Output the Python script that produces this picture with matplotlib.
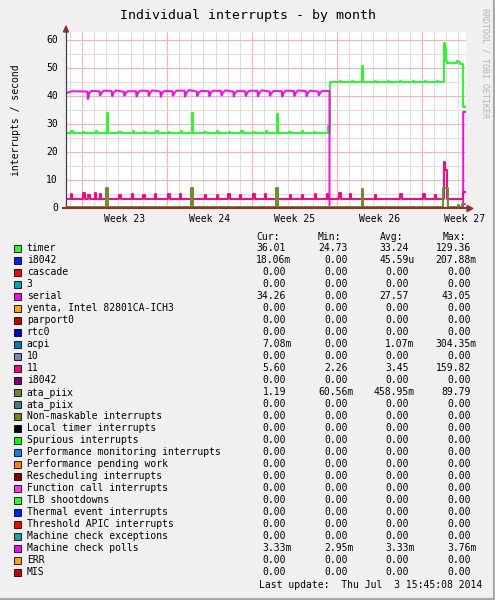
import numpy as np
import matplotlib.pyplot as plt
from matplotlib.patches import Rectangle, Polygon
from matplotlib.lines import Line2D

W, H = 495, 600
PX_DAY = 85 / 7.0      # graph pixels per day
PX_UNIT = 2.8          # graph pixels per interrupt/s
plt.rcParams['font.family'] = ['DejaVu Sans Mono']

# ---- graph data: time in days from the left edge of the graph ----
weeks = ["Week 23", "Week 24", "Week 25", "Week 26", "Week 27"]
week_start = [1.32, 8.32, 15.32, 22.32, 29.32]

timer = [(0.0, 26.8), (0.45, 27.4), (0.55, 26.8), (1.4, 27.3), (1.5, 26.8), (2.45, 27.4),
         (2.55, 26.8), (3.35, 33.8), (3.45, 26.8), (4.4, 27.3), (4.5, 26.8), (5.5, 27.4),
         (5.6, 26.8), (6.4, 27.2), (6.5, 26.8), (7.45, 27.4), (7.55, 26.8), (8.4, 27.3),
         (8.5, 26.8), (9.45, 27.4), (9.55, 26.8), (10.34, 33.8), (10.44, 26.8), (11.4, 27.3),
         (11.5, 26.8), (12.45, 27.4), (12.55, 26.8), (13.4, 27.3), (13.5, 26.8), (14.45, 27.4),
         (14.55, 26.8), (15.4, 27.2), (15.5, 26.8), (16.45, 27.4), (16.55, 26.8), (17.35, 33.5),
         (17.45, 26.8), (18.4, 27.3), (18.5, 26.8), (19.45, 27.4), (19.55, 26.8), (20.4, 27.3),
         (20.5, 26.8), (21.55, 29.3), (21.66, 26.8), (21.74, 44.9), (22.56, 45.4), (22.66, 44.9),
         (23.53, 45.4), (23.63, 44.9), (24.40, 50.6), (24.50, 44.9), (25.45, 45.4), (25.55, 44.9),
         (26.52, 45.4), (26.62, 44.9), (27.5, 45.4), (27.6, 44.9), (28.58, 45.4), (28.68, 44.9),
         (29.57, 45.4), (29.67, 44.9), (30.53, 45.4), (30.63, 44.9), (31.13, 58.8), (31.2, 53.0),
         (31.24, 57.2), (31.3, 52.5), (31.35, 51.9), (32.2, 52.4), (32.3, 52.0), (32.45, 51.6),
         (32.72, 36.0), (32.94, 36.0)]

# serial: one short dip and one peak per day
serial_dip_day = np.arange(1.81, 21.0, 1.0)
serial_dip = [38.9, 40.2, 39.9, 40.1, 39.8, 40.0, 39.7, 40.1, 39.8, 40.0,
              39.9, 40.2, 39.8, 40.0, 39.9, 40.1, 39.8, 40.0, 39.9, 40.2]
serial_peak = [41.8, 41.9, 42.0, 41.7, 41.9, 42.0, 41.8, 41.9, 42.1, 41.8,
               41.9, 42.0, 41.8, 41.9, 42.0, 41.8, 41.9, 42.0, 41.9, 41.8]
serial_start = [(0.0, 41.0), (0.5, 41.7), (1.7, 41.6)]
serial_end = [(21.70, 41.8), (21.70, 0.0), (32.71, 0.0), (32.71, 34.3), (32.94, 34.3)]

# irq 11: small daily bumps on a ~3.3 baseline, burst near the end
irq11_bump_day = [0.41, 1.42, 1.84, 2.39, 2.80, 4.39, 5.41, 6.37, 7.33, 8.42, 9.39,
                  11.45, 12.41, 13.37, 14.33, 15.42, 16.39, 18.45, 19.41, 20.5, 21.47,
                  22.51, 23.39, 25.45, 27.51, 29.42, 30.39]
irq11_bump = [4.9, 5.3, 4.6, 5.3, 5.0, 4.8, 4.9, 4.7, 5.0, 5.1, 4.9,
              4.6, 4.7, 5.0, 4.6, 5.0, 4.9, 4.8, 4.7, 4.9, 5.0,
              5.2, 4.9, 4.8, 4.9, 4.9, 4.8]
irq11_end = [(31.13, 16.5), (31.25, 13.6), (31.4, 3.1), (32.69, 5.8), (32.94, 5.8)]

ata_piix = [(0.0, 0.45), (3.30, 7.0), (3.45, 0.45), (10.29, 7.0), (10.44, 0.45),
            (17.30, 7.0), (17.45, 0.45), (24.35, 6.8), (24.50, 0.45), (31.07, 7.2),
            (31.48, 0.45), (32.25, 1.2), (32.35, 0.45), (32.65, 1.3), (32.94, 1.3)]

# ---- legend ----
names = ["timer", "i8042", "cascade", "3", "serial", "yenta, Intel 82801CA-ICH3",
         "parport0", "rtc0", "acpi", "10", "11", "i8042", "ata_piix", "ata_piix",
         "Non-maskable interrupts", "Local timer interrupts", "Spurious interrupts",
         "Performance monitoring interrupts", "Performance pending work",
         "Rescheduling interrupts", "Function call interrupts", "TLB shootdowns",
         "Thermal event interrupts", "Threshold APIC interrupts",
         "Machine check exceptions", "Machine check polls", "ERR", "MIS"]
colors = ["#22ff22", "#0022ff", "#ff0000", "#00aaaa", "#ff00ff", "#ffa500", "#cc0000",
          "#0000cc", "#0080c0", "#8080c0", "#ff0080", "#800080", "#688e23", "#408080",
          "#808000", "#000000", "#00ff00", "#0080ff", "#ff8000", "#800000", "#fb31fb",
          "#22ff22", "#0022ff", "#ff0000", "#00aaaa", "#ff00ff", "#ffa500", "#cc0000"]
z = "0.00"
cur = ["36.01", "18.06m", z, z, "34.26", z, z, z, "7.08m", z, "5.60", z, "1.19", z,
       z, z, z, z, z, z, z, z, z, z, z, "3.33m", z, z]
vmin = ["24.73", z, z, z, z, z, z, z, z, z, "2.26", z, "60.56m", z,
        z, z, z, z, z, z, z, z, z, z, z, "2.95m", z, z]
vavg = ["33.24", "45.59u", z, z, "27.57", z, z, z, "1.07m", z, "3.45", z, "458.95m", z,
        z, z, z, z, z, z, z, z, z, z, z, "3.33m", z, z]
vmax = ["129.36", "207.88m", z, z, "43.05", z, z, z, "304.35m", z, "159.82", z, "89.79", z,
        z, z, z, z, z, z, z, z, z, z, z, "3.76m", z, z]
last_update = "Last update:  Thu Jul  3 15:45:08 2014"


def fx(px):
    return px / W


def fy(py):
    return 1 - py / H


fig = plt.figure(figsize=(W / 100, H / 100), dpi=100, facecolor="#f0f0f0")
ax = fig.add_axes([fx(66), fy(208), 400 / W, 176 / H])
xmax = 400 / PX_DAY
ax.set_xlim(0, xmax)
ax.set_ylim(0, 176 / PX_UNIT)
ax.set_facecolor("white")
for s in ax.spines.values():
    s.set_visible(False)
ax.set_xticks([])
ax.set_yticks([])

# grid
for k in range(-1, 32):
    d = week_start[0] + k
    major = (k % 7 == 0)
    ax.axvline(d, color="#f5b3b3" if major else "#dedede", lw=0.8, zorder=1)
for v in range(5, 65, 5):
    ax.axhline(v, color="#f5b3b3" if v % 10 == 0 else "#dedede", lw=0.8, zorder=1)

lw = 1.4
# zero series first (hidden under the axis), then the active ones in legend order
for c in colors:
    ax.plot([0, xmax], [0, 0], color=c, lw=lw, clip_on=False, zorder=2)

t, v = zip(*timer)
ax.plot(t, v, color=colors[0], lw=lw, drawstyle="steps-post", zorder=3)

sp = list(serial_start)
for d, lo, hi in zip(serial_dip_day, serial_dip, serial_peak):
    sp += [(d - 0.04, hi - 0.2), (d, lo), (d + 0.12, 41.2), (d + 0.3, hi)]
sp += serial_end
t, v = zip(*sp)
ax.plot(t, v, color=colors[4], lw=lw, zorder=3)

p11 = [(0.0, 3.3)]
for d, h in zip(irq11_bump_day, irq11_bump):
    base = 3.3 if d < 21.7 else 3.1
    p11 += [(d, h), (d + 0.12, base)]
p11 += irq11_end
t, v = zip(*p11)
ax.plot(t, v, color=colors[10], lw=lw, drawstyle="steps-post", zorder=3)

t, v = zip(*ata_piix)
ax.plot(t, v, color=colors[12], lw=lw, drawstyle="steps-post", zorder=3)

# axes with arrows
axis_red = "#9b2d2d"
fig.add_artist(Line2D([fx(66), fx(66)], [fy(208), fy(30)], color="#404040", lw=0.9))
fig.add_artist(Line2D([fx(63), fx(468)], [fy(208.5), fy(208.5)], color=axis_red, lw=1.5))
fig.add_artist(Polygon([[fx(63.5), fy(32)], [fx(68.5), fy(32)], [fx(66), fy(26)]],
                       closed=True, color=axis_red))
fig.add_artist(Polygon([[fx(467), fy(205.5)], [fx(467), fy(211.5)], [fx(473), fy(208.5)]],
                       closed=True, color=axis_red))

fs = 7
for val in range(0, 61, 10):
    fig.text(fx(58), fy(208 - val * PX_UNIT), str(val), ha="right", va="center", fontsize=fs)
for w, d in zip(weeks, week_start):
    fig.text(fx(66 + (d + 3.5) * PX_DAY), fy(219), w, ha="center", va="center", fontsize=fs)

fig.text(fx(248), fy(16), "Individual interrupts - by month", ha="center", va="center",
         fontsize=9.5)
fig.text(fx(16), fy(120), "interrupts / second", ha="center", va="center",
         rotation=90, fontsize=fs)
fig.text(fx(485), fy(8), "RRDTOOL / TOBI OETIKER", ha="center", va="top",
         rotation=270, fontsize=6, color="#b4b4b4")

# legend table
for x, head in zip([256.7, 317.7, 380, 442.3], ["Cur:", "Min:", "Avg:", "Max:"]):
    fig.text(fx(x), fy(236.7), head, ha="left", va="center", fontsize=fs)

col_end = [286.1, 348.1, 409.1, 471.1]
cw = 5.85
for i, name in enumerate(names):
    y = 248.3 + i * 12.0
    fig.add_artist(Rectangle((fx(14), fy(y + 4)), 7 / W, 7 / H, facecolor=colors[i],
                             edgecolor="black", lw=0.6))
    fig.text(fx(26.7), fy(y), name, ha="left", va="center", fontsize=fs)
    for xe, s in zip(col_end, [cur[i], vmin[i], vavg[i], vmax[i]]):
        xr = xe + cw - 0.5 if s[-1] in "mu" else xe
        fig.text(fx(xr), fy(y), s, ha="right", va="center", fontsize=fs)

fig.text(fx(482), fy(584.7), last_update, ha="right", va="center", fontsize=fs)

# outer frame
fig.add_artist(Line2D([fx(493.5), fx(493.5)], [0, 1], color="#a8a8a8", lw=1.5))
fig.add_artist(Line2D([0, 1], [fy(598.5), fy(598.5)], color="#a8a8a8", lw=1.5))

fig.savefig("out.png", dpi=100, facecolor=fig.get_facecolor())
